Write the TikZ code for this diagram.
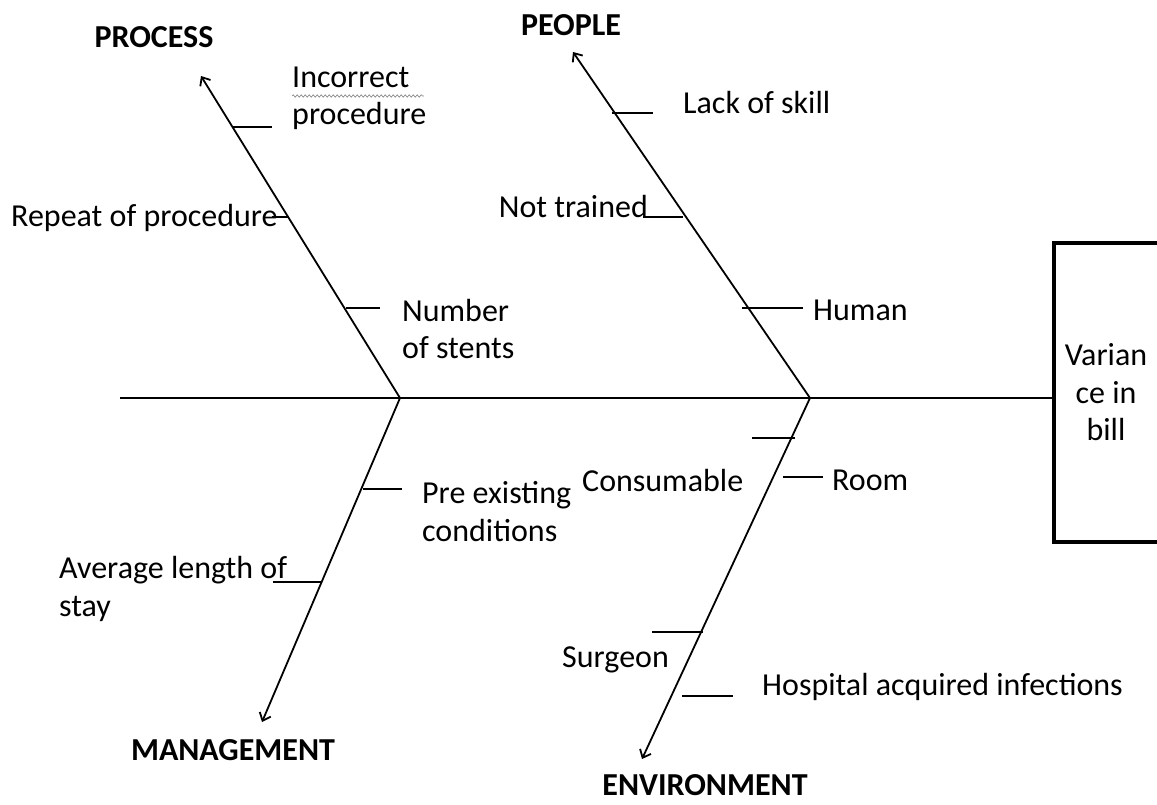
\documentclass[tikz,border=0pt]{standalone}
\usepackage{fontspec}
\setmainfont{Carlito}
\usetikzlibrary{arrows.meta, decorations.pathmorphing}
\begin{document}
\begin{tikzpicture}[x=1pt, y=-1pt, >={Straight Barb[length=7pt, width=12pt]},
    font=\fontsize{32}{37.5}\selectfont,
    bone/.style={line width=1.8pt},
    rib/.style={line width=1.5pt},
    cause/.style={inner sep=0pt, align=left},
    group/.style={inner sep=0pt, font=\fontsize{32}{37}\selectfont\bfseries}]
\useasboundingbox (0,0) rectangle (1157,804);
% spine and effect
\coordinate (tail) at (120,398);
\coordinate (jl) at (400,398);
\coordinate (jr) at (810,398);
\node[draw, line width=4.5pt, minimum width=160pt, minimum height=299pt] (effect) at (1134,392.5) {};
\node[align=center, inner sep=0pt] (bill) at (1106,392.5) {Varian\\ce in\\bill};
\draw[line width=2.2pt](tail)--(jl)--(jr)--(effect.west |- jr);
% bone heads
\coordinate (ph) at (201,76);
\coordinate (qh) at (573,52);
\coordinate (mh) at (262,722);
\coordinate (eh) at (642,759);
\draw[bone, ->](jl)--(ph);
\draw[bone, ->](jr)--(qh);
\draw[bone, ->](jl)--(mh);
\draw[bone, ->](jr)--(eh);
\node[group] (process) at (154,37) {PROCESS};
\node[group] (people) at (571,25) {PEOPLE};
\node[group] (manage) at (233,750) {MANAGEMENT};
\node[group] (environ) at (705,785) {ENVIRONMENT};
% process
\node[cause, anchor=west] (incorrect) at (292,98.5) {Incorrect\\procedure};
\draw[gray, line width=.6pt, decorate, decoration={snake, amplitude=1.2pt, segment length=4pt}]
    (292,96)--(424,96);
\node[cause, anchor=west] (repeat) at (11,218) {Repeat of procedure};
\node[cause, anchor=west] (stents) at (402,329) {Number\\of stents};
\draw[rib](232,127)--(272,127);
\draw[rib](272,217)--(289,217);
\draw[rib](346,308)--(380,308);
% people
\node[cause, anchor=west] (skill) at (683,103) {Lack of skill};
\node[cause, anchor=east] (trained) at (648,207) {Not trained};
\node[cause, anchor=west] (human) at (813,310) {Human};
\draw[rib](612,113)--(653,113);
\draw[rib](643,217)--(683,217);
\draw[rib](742,308)--(803,308);
% management
\node[cause, anchor=west] (preexist) at (422,511.5) {Pre existing\\conditions};
\node[cause, anchor=west] (stay) at (59,589) {Average length of\\stay};
\draw[rib](363,489)--(402,489);
\draw[rib](273,582)--(322,582);
% environment
\node[cause, anchor=west] (consum) at (582,480) {Consumable};
\node[cause, anchor=west] (room) at (832,480) {Room};
\node[cause, anchor=west] (surgeon) at (562,660) {Surgeon};
\node[cause, anchor=west] (infect) at (762,687) {Hospital acquired infections};
\draw[rib](752,438)--(795,438);
\draw[rib](783,477)--(823,477);
\draw[rib](652,632)--(703,632);
\draw[rib](682,696)--(733,696);
\end{tikzpicture}
\end{document}
